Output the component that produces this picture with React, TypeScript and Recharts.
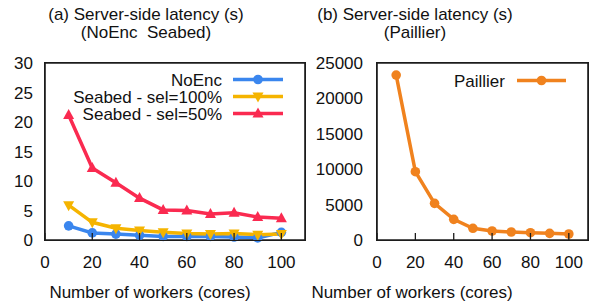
import React from 'react';
import { LineChart, Line, XAxis, YAxis, Legend } from 'recharts';

// workers (cores) on the x axis
const workers = [10, 20, 30, 40, 50, 60, 70, 80, 90, 100];

// (a) server-side latency in seconds
const noEnc = [2.4, 1.2, 1.0, 0.8, 0.6, 0.6, 0.6, 0.5, 0.35, 1.3];
const seabed100 = [5.9, 3.0, 2.0, 1.6, 1.3, 1.1, 1.0, 1.1, 0.9, 1.0];
const seabed50 = [21.2, 12.2, 9.7, 7.1, 5.1, 5.0, 4.4, 4.6, 3.9, 3.7];

// (b) server-side latency in seconds, Paillier
const paillier = [23300, 9650, 5180, 2920, 1650, 1270, 1130, 1030, 940, 850];

const xTicks = [0, 20, 40, 60, 80, 100];
const yTicksA = [0, 5, 10, 15, 20, 25, 30];
const yTicksB = [0, 5000, 10000, 15000, 20000, 25000];

const dataA = workers.map((w, i) => ({ w, noEnc: noEnc[i], s100: seabed100[i], s50: seabed50[i] }));
const dataB = workers.map((w, i) => ({ w, paillier: paillier[i] }));

const FONT = '"Liberation Sans", Arial, Helvetica, sans-serif';
const BLUE = '#3a86ee';
const YELLOW = '#f5b400';
const RED = '#fa2a50';
const ORANGE = '#f0821e';
const INK = '#1c1c1c';
const FRAME = { stroke: INK, strokeWidth: 1.6 };

const shapes: Record<string, string> = { noEnc: 'circle', s100: 'down', s50: 'up', paillier: 'circle' };

const Marker = ({ cx, cy, shape, color }: any) => {
  if (shape === 'up') {
    return <polygon points={`${cx},${cy - 6} ${cx - 5.5},${cy + 4} ${cx + 5.5},${cy + 4}`} fill={color} />;
  }
  if (shape === 'down') {
    return <polygon points={`${cx},${cy + 6} ${cx - 5.5},${cy - 4} ${cx + 5.5},${cy - 4}`} fill={color} />;
  }
  return <circle cx={cx} cy={cy} r={4.8} fill={color} />;
};

const dotFor = (key: string, color: string) => (p: any) =>
  <Marker key={`${key}-${p.index}`} cx={p.cx} cy={p.cy} shape={shapes[key]} color={color} />;

// gnuplot-ish inward tick + label below the frame
const XTick = (p: any) => (
  <g>
    <line x1={p.x} x2={p.x} y1={240} y2={233} stroke={INK} strokeWidth={1.3} />
    <text x={p.x} y={p.y} dy="0.71em" textAnchor="middle" fill="#111" fontSize={17} fontFamily={FONT}>
      {p.payload.value}
    </text>
  </g>
);

const LegendBox = ({ payload, textRight, sampleX1, sampleX2, rowH }: any) => (
  <svg width={sampleX2 + 6} height={(payload?.length || 0) * rowH + 4} style={{ display: 'block' }}>
    {(payload || []).map((item: any, i: number) => {
      const y = i * rowH + rowH / 2;
      const mid = (sampleX1 + sampleX2) / 2;
      return (
        <g key={item.dataKey}>
          <text x={textRight} y={y} dy="0.355em" textAnchor="end" fontSize={17} fontFamily={FONT} fill="#111">
            {item.value}
          </text>
          <line x1={sampleX1} x2={sampleX2} y1={y} y2={y} stroke={item.color} strokeWidth={3.5} />
          <Marker cx={mid} cy={y} shape={shapes[item.dataKey]} color={item.color} />
        </g>
      );
    })}
  </svg>
);

const label = (text: string, center: number, top: number) => (
  <div
    style={{
      position: 'absolute',
      left: center - 150,
      top,
      width: 300,
      textAlign: 'center',
      fontFamily: FONT,
      fontSize: 17,
      lineHeight: '18px',
      color: '#111',
      whiteSpace: 'pre',
    }}
  >
    {text}
  </div>
);

// plot frame box drawn over the plot area
const frameBox = (left: number, right: number) => (
  <div
    style={{
      position: 'absolute',
      left: left - 0.8,
      top: 62.2,
      width: right - left + 1.6,
      height: 178.6,
      boxSizing: 'border-box',
      border: `1.6px solid ${INK}`,
      pointerEvents: 'none',
    }}
  />
);

const App = () => {
  return (
    <div style={{ position: 'absolute', left: 0, top: 0, width: 608, height: 308 }}>
      {label('(a) Server-side latency (s)\n(NoEnc  Seabed)', 146, 6)}
      {label('(b) Server-side latency (s)\n(Paillier)', 415, 6)}

      <div style={{ position: 'absolute', left: 0, top: 0 }}>
        <LineChart width={320} height={308} data={dataA} margin={{ top: 62, right: 14, bottom: 0, left: 0 }}>
          <XAxis dataKey="w" type="number" domain={[0, 110]} ticks={xTicks} axisLine={FRAME} tick={XTick} height={68} tickMargin={10} tickLine={false} />
          <XAxis xAxisId="top" orientation="top" dataKey="w" type="number" domain={[0, 110]} height={1} axisLine={FRAME} tick={false} tickLine={false} />
          <YAxis type="number" domain={[0, 30]} ticks={yTicksA} width={45} axisLine={FRAME} tickLine={false} tickMargin={6} tick={{ fill: '#111', fontSize: 17, fontFamily: FONT }} />
          <YAxis yAxisId="right" orientation="right" type="number" domain={[0, 30]} width={1} axisLine={FRAME} tick={false} tickLine={false} />
          <Legend
            layout="horizontal"
            verticalAlign="middle"
            align="center"
            wrapperStyle={{ left: 60, top: 71, width: 240 }}
            content={(props: any) => (
              <LegendBox {...props} textRight={162} sampleX1={173} sampleX2={223} rowH={17} />
            )}
          />
          <Line dataKey="noEnc" name="NoEnc" stroke={BLUE} strokeWidth={3.5} dot={dotFor('noEnc', BLUE)} isAnimationActive={false} />
          <Line dataKey="s100" name="Seabed - sel=100%" stroke={YELLOW} strokeWidth={3.5} dot={dotFor('s100', YELLOW)} isAnimationActive={false} />
          <Line dataKey="s50" name="Seabed - sel=50%" stroke={RED} strokeWidth={3.5} dot={dotFor('s50', RED)} isAnimationActive={false} />
        </LineChart>
      </div>
      {frameBox(45, 305)}

      <div style={{ position: 'absolute', left: 300, top: 0 }}>
        <LineChart width={308} height={308} data={dataB} margin={{ top: 62, right: 19, bottom: 0, left: 0 }}>
          <XAxis dataKey="w" type="number" domain={[0, 110]} ticks={xTicks} axisLine={FRAME} tick={XTick} height={68} tickMargin={10} tickLine={false} />
          <XAxis xAxisId="top" orientation="top" dataKey="w" type="number" domain={[0, 110]} height={1} axisLine={FRAME} tick={false} tickLine={false} />
          <YAxis type="number" domain={[0, 25000]} ticks={yTicksB} width={77} axisLine={FRAME} tickLine={false} tickMargin={8} tick={{ fill: '#111', fontSize: 17, fontFamily: FONT }} />
          <YAxis yAxisId="right" orientation="right" type="number" domain={[0, 25000]} width={1} axisLine={FRAME} tick={false} tickLine={false} />
          <Legend
            layout="horizontal"
            verticalAlign="middle"
            align="center"
            wrapperStyle={{ left: 120, top: 72, width: 170 }}
            content={(props: any) => (
              <LegendBox {...props} textRight={85} sampleX1={97} sampleX2={146} rowH={17} />
            )}
          />
          <Line dataKey="paillier" name="Paillier" stroke={ORANGE} strokeWidth={3.5} dot={dotFor('paillier', ORANGE)} isAnimationActive={false} />
        </LineChart>
      </div>
      {frameBox(377, 588)}

      {label('Number of workers (cores)', 150, 284)}
      {label('Number of workers (cores)', 412, 284)}
    </div>
  );
};

export default App;
